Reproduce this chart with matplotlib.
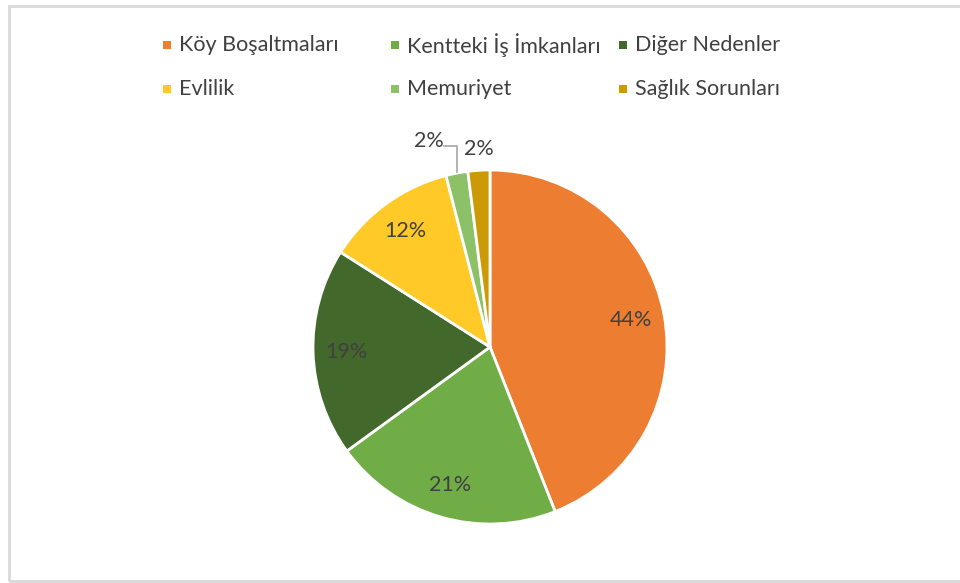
import numpy as np
import matplotlib
matplotlib.use("Agg")
import matplotlib.pyplot as plt
from matplotlib.patches import Rectangle

labels = ["Köy Boşaltmaları", "Kentteki İş İmkanları", "Diğer Nedenler",
          "Evlilik", "Memuriyet", "Sağlık Sorunları"]
values = [44, 21, 19, 12, 2, 2]
colors = ["#ED7D31", "#70AD47", "#43682B", "#FFCA28", "#8CC168", "#CC9A06"]

plt.rcParams['font.family'] = ['Lato', 'DejaVu Sans']
TXT = "#404040"
FS = 15.5

W, H = 960, 583
fig = plt.figure(figsize=(W / 100, H / 100), dpi=100)

# chart border
fig.patches.append(Rectangle((9 / W, 2 / H), 1.2, (575) / H, transform=fig.transFigure,
                             fill=False, edgecolor="#D9D9D9", linewidth=2))

cx, cy, r = 490, 347, 177
ax = fig.add_axes([(cx - r) / W, (H - cy - r) / H, 2 * r / W, 2 * r / H])
wedges, _ = ax.pie(values, colors=colors, startangle=90, counterclock=False,
                   radius=1.0, wedgeprops=dict(edgecolor="white", linewidth=2))
ax.set_xlim(-1, 1)
ax.set_ylim(-1, 1)
ax.set_aspect("equal")
ax.axis("off")

total = sum(values)
for i, (w, v) in enumerate(zip(wedges, values)):
    mid = np.deg2rad((w.theta1 + w.theta2) / 2)
    pct = f"{round(100 * v / total)}%"
    if v >= 5:
        d = 0.81
        ax.text(d * np.cos(mid), d * np.sin(mid), pct, ha="center", va="center",
                fontsize=FS, color=TXT)
    elif i == len(values) - 1:
        d = 1.12
        ax.text(d * np.cos(mid) + 0.01, d * np.sin(mid), pct, ha="center", va="center",
                fontsize=FS, color=TXT, clip_on=False)
    else:
        xv = np.cos(mid)
        ytop = 1.135
        ax.plot([xv, xv, xv - 0.07], [0.99, ytop, ytop], color="#A6A6A6",
                linewidth=1.2, clip_on=False)
        ax.text(xv - 0.075, ytop + 0.03, pct, ha="right", va="center",
                fontsize=FS, color=TXT, clip_on=False)

# legend (Excel-style equal columns)
for i, (lab, col) in enumerate(zip(labels, colors)):
    c, rw = i % 3, i // 3
    x = 163 + c * 228
    y = 45 + rw * 44
    fig.patches.append(Rectangle((x / W, (H - y - 4) / H), 8 / W, 8 / H,
                                 transform=fig.transFigure, facecolor=col, edgecolor="none"))
    fig.text((x + 16) / W, (H - y) / H, lab, ha="left", va="center",
             fontsize=FS, color=TXT)

fig.savefig("out.png", dpi=100, facecolor="white")
